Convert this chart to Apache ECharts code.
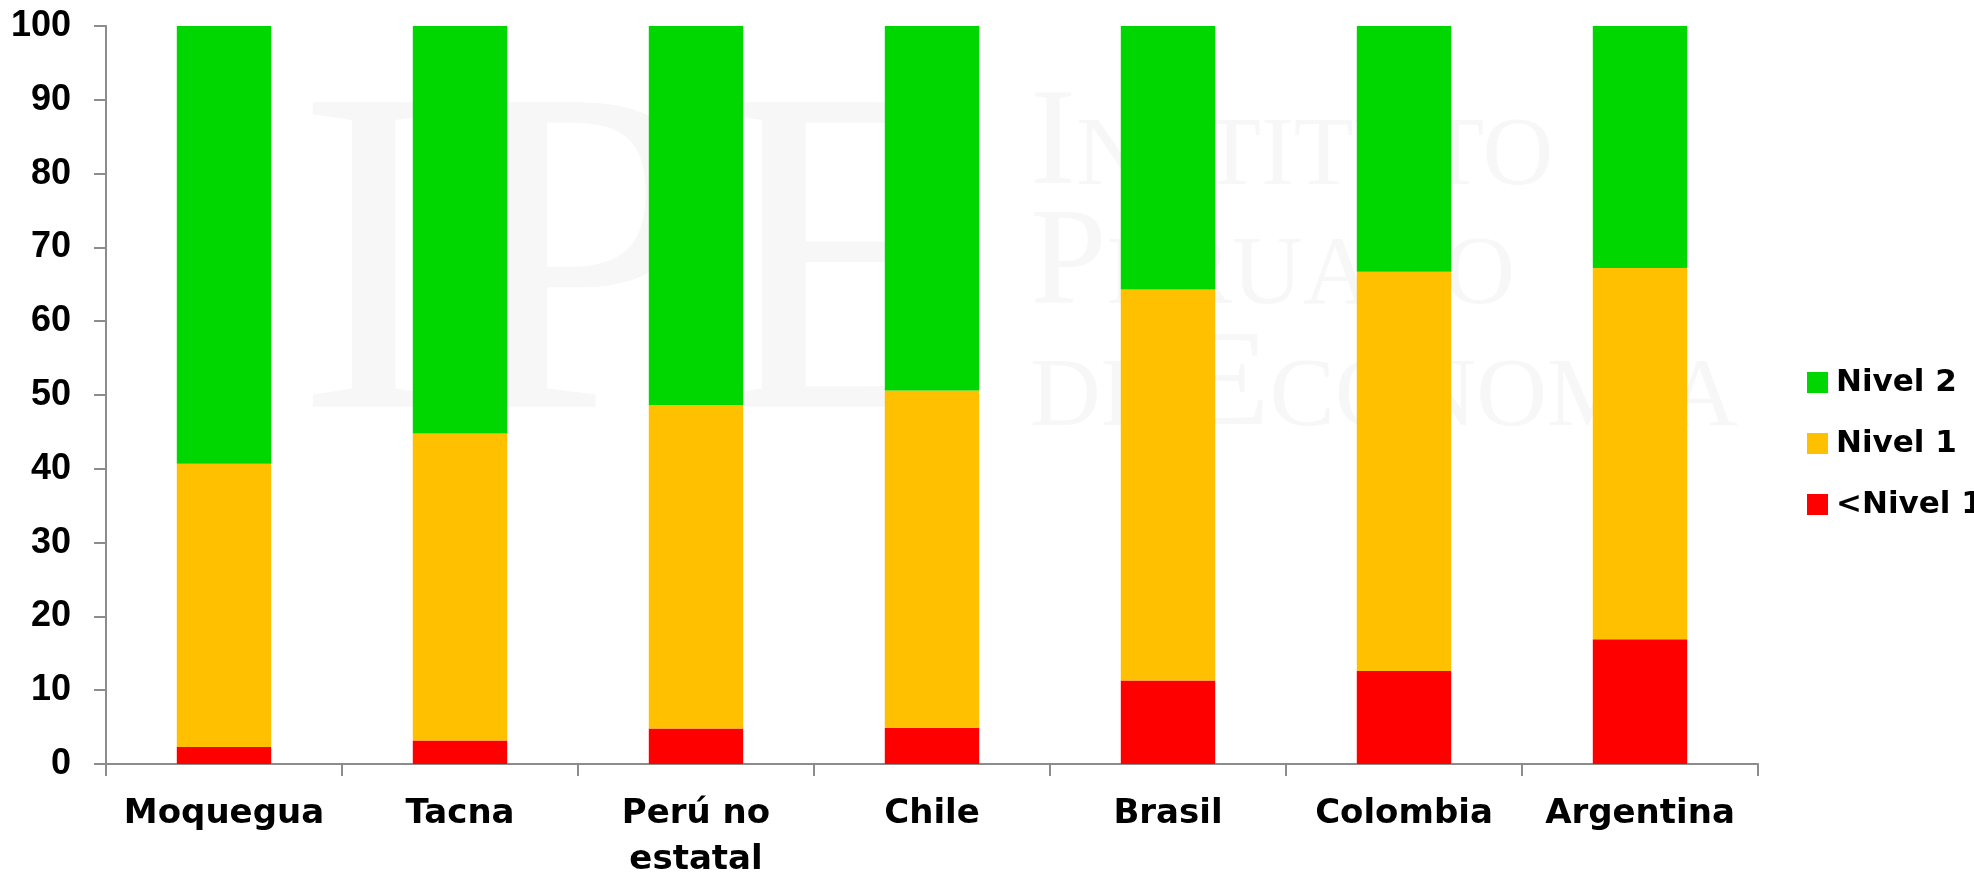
<!DOCTYPE html>
<html>
<head>
<meta charset="utf-8">
<script src="https://cdn.jsdelivr.net/npm/echarts@6/dist/echarts.min.js"></script>
<style>
html,body{margin:0;padding:0;background:#fff;}
#chart{width:1974px;height:874px;}
</style>
</head>
<body>
<div id="chart"></div>
<script>
var categories = ['Moquegua', 'Tacna', 'Perú no\nestatal', 'Chile', 'Brasil', 'Colombia', 'Argentina'];
var belowNivel1 = [2.3, 3.2, 4.8, 4.9, 11.3, 12.6, 16.9];
var nivel1 = [38.4, 41.6, 43.8, 45.7, 53.0, 54.1, 50.3];
var nivel2 = [59.3, 55.2, 51.4, 49.4, 35.7, 33.3, 32.8];
var seriesNames = ['<Nivel 1', 'Nivel 1', 'Nivel 2'];
var legendOrder = ['Nivel 2', 'Nivel 1', '<Nivel 1'];
var yTicks = { min: 0, max: 100, interval: 10 };

var chart = echarts.init(document.getElementById('chart'));
var axisColor = '#8c8c8c';
var wm = '#f7f7f7';
var wmRich = {
  b: { fontFamily: 'Liberation Serif', fontSize: 138, lineHeight: 138, verticalAlign: 'bottom', fill: wm, color: wm },
  s: { fontFamily: 'Liberation Serif', fontSize: 98, lineHeight: 98, verticalAlign: 'bottom', fill: wm, color: wm, padding: [0, 0, 9, 0] }
};
function wmText(top, text) {
  return { type: 'text', z: -10, left: 1030, top: top, style: { text: text, rich: wmRich, fill: wm } };
}
var option = {
  backgroundColor: '#ffffff',
  animation: false,
  graphic: [
    { type: 'text', z: -10, left: 296, top: 52, style: { text: 'IPE', fill: wm, font: '465px "Liberation Serif"' } },
    wmText(78, '{b|I}{s|NSTITUTO}'),
    wmText(197, '{b|P}{s|ERUANO}'),
    wmText(319, '{s|DE }{b|E}{s|CONOMÍA}')
  ],
  grid: { left: 106, right: 216, top: 26, bottom: 110, containLabel: false, outerBoundsMode: 'none' },
  legend: {
    orient: 'vertical',
    left: 1802,
    top: 362,
    itemWidth: 21,
    itemHeight: 21,
    itemGap: 30,
    icon: 'rect',
    data: legendOrder,
    textStyle: { fontFamily: 'DejaVu Sans', fontWeight: 'bold', fontSize: 31, color: '#000', padding: [0, 0, 0, 3] }
  },
  xAxis: {
    type: 'category',
    data: categories,
    axisLine: { show: true, lineStyle: { color: axisColor, width: 2 } },
    axisTick: { show: true, length: 12, lineStyle: { color: axisColor, width: 2 } },
    axisLabel: { color: '#000', fontFamily: 'DejaVu Sans', fontWeight: 'bold', fontSize: 34, lineHeight: 46, margin: 27, interval: 0 }
  },
  yAxis: {
    type: 'value',
    min: yTicks.min,
    max: yTicks.max,
    interval: yTicks.interval,
    splitLine: { show: false },
    axisLine: { show: true, lineStyle: { color: axisColor, width: 2 } },
    axisTick: { show: true, length: 12, lineStyle: { color: axisColor, width: 2 } },
    axisLabel: { color: '#000', fontFamily: 'Liberation Sans', fontWeight: 'bold', fontSize: 36, margin: 35 }
  },
  series: [
    { name: seriesNames[0], type: 'bar', stack: 'total', data: belowNivel1, barCategoryGap: '60%', itemStyle: { color: '#ff0000' } },
    { name: seriesNames[1], type: 'bar', stack: 'total', data: nivel1, barCategoryGap: '60%', itemStyle: { color: '#ffc000' } },
    { name: seriesNames[2], type: 'bar', stack: 'total', data: nivel2, barCategoryGap: '60%', itemStyle: { color: '#00d600' } }
  ]
};
chart.setOption(option);
</script>
</body>
</html>
